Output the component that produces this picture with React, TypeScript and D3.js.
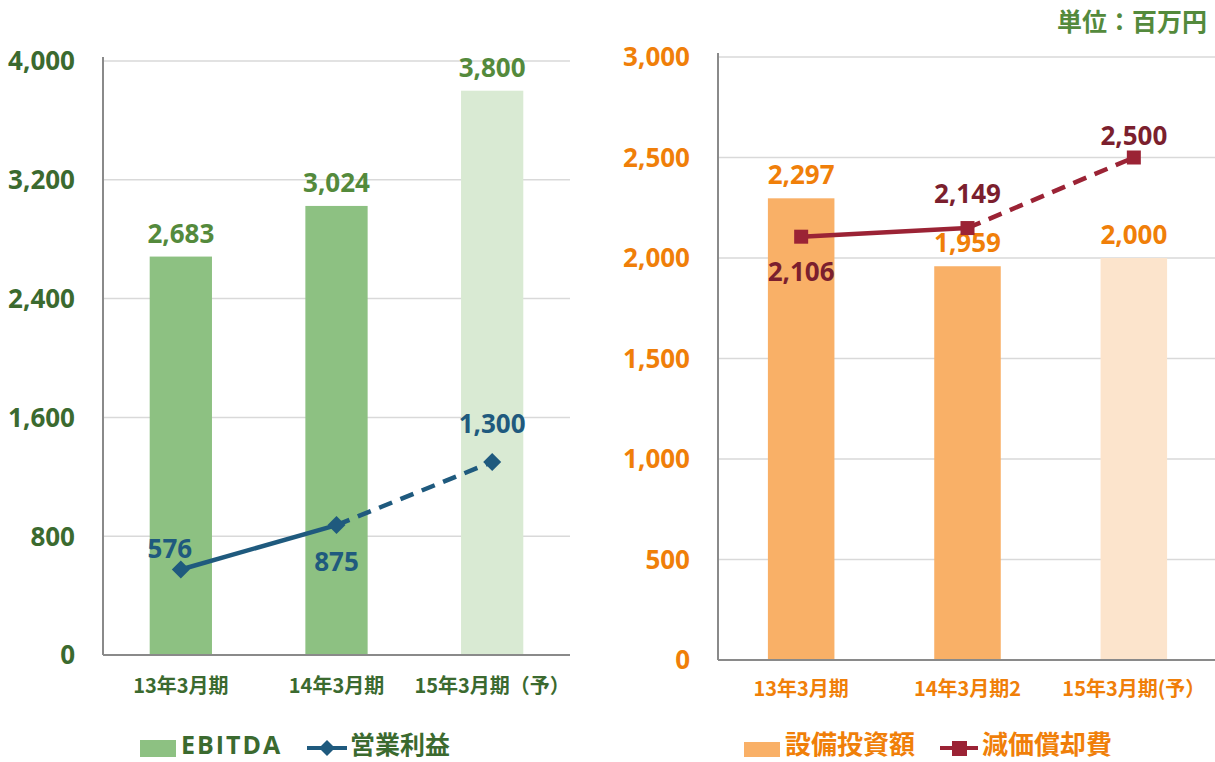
import React from "react";
import * as d3 from "d3";

const leftCategories = ["13年3月期", "14年3月期", "15年3月期（予）"];
const ebitdaValues = [2683, 3024, 3800];
const operatingProfit = [576, 875, 1300];
const leftTicks = [0, 800, 1600, 2400, 3200, 4000];

const rightCategories = ["13年3月期", "14年3月期2", "15年3月期(予）"];
const capexValues = [2297, 1959, 2000];
const depreciationValues = [2106, 2149, 2500];
const rightTicks = [0, 500, 1000, 1500, 2000, 2500, 3000];

// label offsets for the line points (layout only)
const leftLineLabelDx = [-11, 0, 0];
const leftLineLabelDy = [-11, 46, -29];
const rightLineLabelDx = [0, 0, 0];
const rightLineLabelDy = [44, -25, -13];

const FONT = "'Open Sans', 'Noto Sans CJK JP', sans-serif";
const JP = "'Noto Sans CJK JP', sans-serif";

const fmt = d3.format(",");

type PanelProps = {
  categories: string[];
  bars: number[];
  line: number[];
  ticks: number[];
  x0: number;
  x1: number;
  yTop: number;
  yBottom: number;
  barColor: string;
  barColorLight: string;
  lineColor: string;
  tickColor: string;
  barLabelColor: string;
  lineLabelColor: string;
  catColor: string;
  labelDx: number[];
  labelDy: number[];
  marker: "diamond" | "square";
  catY: number;
};

const Panel = (p: PanelProps) => {
  const x = d3
    .scaleBand<string>()
    .domain(p.categories)
    .range([p.x0, p.x1])
    .paddingInner(0.6)
    .paddingOuter(0.3);
  const y = d3
    .scaleLinear()
    .domain([0, p.ticks[p.ticks.length - 1]])
    .range([p.yBottom, p.yTop]);
  const cx = (i: number) => (x(p.categories[i]) as number) + x.bandwidth() / 2;
  const pts: [number, number][] = p.line.map((v, i) => [cx(i), y(v)]);
  const lineGen = d3.line();
  const last = p.line.length - 1;

  return (
    <g>
      {p.ticks.map((t) => (
        <g key={t}>
          {t > 0 && (
            <line x1={p.x0} x2={p.x1} y1={y(t)} y2={y(t)} stroke="#d9d9d9" strokeWidth={1.5} />
          )}
          <text
            x={p.x0 - 28}
            y={y(t)}
            dy="0.36em"
            textAnchor="end"
            fontFamily={FONT}
            fontWeight={700}
            fontSize={26}
            fill={p.tickColor}
          >
            {fmt(t)}
          </text>
        </g>
      ))}
      {p.bars.map((v, i) => (
        <g key={i}>
          <rect
            x={x(p.categories[i])}
            y={y(v)}
            width={x.bandwidth()}
            height={y(0) - y(v)}
            fill={i === last ? p.barColorLight : p.barColor}
          />
          <text
            x={cx(i)}
            y={y(v) - 14}
            textAnchor="middle"
            fontFamily={FONT}
            fontWeight={700}
            fontSize={26}
            fill={p.barLabelColor}
          >
            {fmt(v)}
          </text>
        </g>
      ))}
      <line x1={p.x0} x2={p.x0} y1={p.yTop - 4} y2={p.yBottom} stroke="#8a8a8a" strokeWidth={2} />
      <line x1={p.x0} x2={p.x1} y1={p.yBottom} y2={p.yBottom} stroke="#8a8a8a" strokeWidth={2} />
      <path d={lineGen(pts.slice(0, last)) || ""} fill="none" stroke={p.lineColor} strokeWidth={4.5} />
      <path
        d={lineGen(pts.slice(last - 1)) || ""}
        fill="none"
        stroke={p.lineColor}
        strokeWidth={4.5}
        strokeDasharray="14 9"
      />
      {pts.map(([px, py], i) =>
        p.marker === "diamond" ? (
          <path
            key={i}
            d={`M${px},${py - 9}L${px + 9},${py}L${px},${py + 9}L${px - 9},${py}Z`}
            fill={p.lineColor}
          />
        ) : (
          <rect key={i} x={px - 7} y={py - 7} width={14} height={14} fill={p.lineColor} />
        )
      )}
      {p.line.map((v, i) => (
        <text
          key={i}
          x={cx(i) + p.labelDx[i]}
          y={y(v) + p.labelDy[i]}
          textAnchor="middle"
          fontFamily={FONT}
          fontWeight={700}
          fontSize={26}
          fill={p.lineLabelColor}
        >
          {fmt(v)}
        </text>
      ))}
      {p.categories.map((c, i) => (
        <text
          key={c}
          x={cx(i)}
          y={p.catY}
          textAnchor="middle"
          fontFamily={JP}
          fontWeight={700}
          fontSize={20}
          fill={p.catColor}
        >
          {c}
        </text>
      ))}
    </g>
  );
};

export default function App() {
  return (
    <svg
      width={1215}
      height={762}
      style={{ position: "absolute", left: 0, top: 0, background: "#fff" }}
    >
      <Panel
        categories={leftCategories}
        bars={ebitdaValues}
        line={operatingProfit}
        ticks={leftTicks}
        x0={103}
        x1={570}
        yTop={61}
        yBottom={655}
        barColor="#8dc182"
        barColorLight="#d9ead3"
        lineColor="#1f5a7e"
        tickColor="#3b6a2f"
        barLabelColor="#548a3c"
        lineLabelColor="#1f5a7e"
        catColor="#3b6a2f"
        labelDx={leftLineLabelDx}
        labelDy={leftLineLabelDy}
        marker="diamond"
        catY={693}
      />
      <Panel
        categories={rightCategories}
        bars={capexValues}
        line={depreciationValues}
        ticks={rightTicks}
        x0={718}
        x1={1217}
        yTop={57}
        yBottom={660}
        barColor="#f9b067"
        barColorLight="#fce4cc"
        lineColor="#9b2335"
        tickColor="#f07f09"
        barLabelColor="#f07f09"
        lineLabelColor="#7b1f2e"
        catColor="#f07f09"
        labelDx={rightLineLabelDx}
        labelDy={rightLineLabelDy}
        marker="square"
        catY={696}
      />
      <text x={1207} y={31} textAnchor="end" fontFamily={JP} fontWeight={700} fontSize={25} fill="#548a3c">
        単位：百万円
      </text>
      {/* legends */}
      <rect x={140} y={740} width={36} height={17} fill="#8dc182" />
      <text x={181} y={754} fontFamily={FONT} fontWeight={700} fontSize={25} letterSpacing={2} fill="#3b6a2f">
        EBITDA
      </text>
      <line x1={307} x2={347} y1={748} y2={748} stroke="#1f5a7e" strokeWidth={4} />
      <path d="M327,740L335,748L327,756L319,748Z" fill="#1f5a7e" />
      <text x={350} y={754} fontFamily={JP} fontWeight={700} fontSize={25} fill="#3b6a2f">
        営業利益
      </text>
      <rect x={744} y={742} width={36} height={15} fill="#f9b067" />
      <text x={785} y={754} fontFamily={JP} fontWeight={700} fontSize={26} fill="#f07f09">
        設備投資額
      </text>
      <line x1={940} x2={978} y1={748} y2={748} stroke="#9b2335" strokeWidth={4} />
      <rect x={952} y={741} width={15} height={15} fill="#9b2335" />
      <text x={982} y={754} fontFamily={JP} fontWeight={700} fontSize={26} fill="#f07f09">
        減価償却費
      </text>
    </svg>
  );
}
